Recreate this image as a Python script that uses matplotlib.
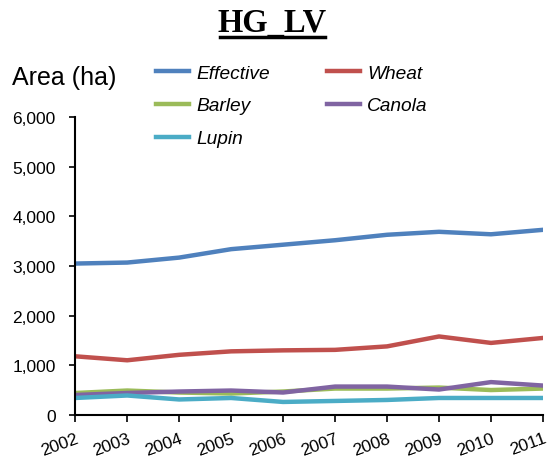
import matplotlib.pyplot as plt
from matplotlib.lines import Line2D
from matplotlib.ticker import FuncFormatter

years = [2002, 2003, 2004, 2005, 2006, 2007, 2008, 2009, 2010, 2011]
effective = [3050, 3070, 3170, 3340, 3430, 3520, 3630, 3690, 3640, 3730]
wheat = [1180, 1100, 1210, 1280, 1300, 1310, 1380, 1580, 1450, 1550]
barley = [440, 490, 450, 430, 470, 530, 530, 550, 500, 530]
canola = [400, 440, 470, 490, 450, 570, 570, 510, 660, 590]
lupin = [340, 390, 310, 340, 260, 280, 300, 340, 340, 340]

plt.rcParams['font.family'] = ['Liberation Sans', 'DejaVu Sans']

fig = plt.figure(figsize=(5.49, 4.6), dpi=100)
ax = fig.add_axes([0.137, 0.096, 0.852, 0.647])

lw = 3.2
l_eff, = ax.plot(years, effective, color='#4F81BD', lw=lw, label='Effective')
l_wh, = ax.plot(years, wheat, color='#C0504D', lw=lw, label='Wheat')
l_ba, = ax.plot(years, barley, color='#9BBB59', lw=lw, label='Barley')
l_ca, = ax.plot(years, canola, color='#8064A2', lw=lw, label='Canola')
l_lu, = ax.plot(years, lupin, color='#4BACC6', lw=lw, label='Lupin')

ax.set_xlim(2002, 2011)
ax.set_ylim(0, 6000)
ax.set_yticks(range(0, 6001, 1000))
ax.yaxis.set_major_formatter(FuncFormatter(lambda v, p: f"{int(v):,}"))
ax.set_xticks(years)
ax.set_xticklabels([str(y) for y in years], rotation=20, ha='right',
                   rotation_mode='anchor', fontsize=12.5)
ax.tick_params(axis='y', labelsize=12.5, direction='out', length=4, width=1.2, pad=10)
ax.tick_params(axis='x', direction='out', length=5, width=1.2, pad=6)
ax.spines['top'].set_visible(False)
ax.spines['right'].set_visible(False)
ax.spines['left'].set_linewidth(1.5)
ax.spines['bottom'].set_linewidth(1.5)

fig.legend([l_eff, l_ba, l_lu, l_wh, l_ca],
           ['Effective', 'Barley', 'Lupin', 'Wheat', 'Canola'],
           ncol=2, loc='upper left', bbox_to_anchor=(0.284, 0.858),
           frameon=False, prop={'style': 'italic', 'size': 13.8},
           handlelength=1.75, handletextpad=0.36, columnspacing=2.95,
           labelspacing=0.8, borderpad=0, borderaxespad=0)

fig.text(0.022, 0.83, 'Area (ha)', fontsize=18, va='center', ha='left')

fig.text(0.496, 0.948, 'HG_LV', fontsize=23.5, fontweight='bold',
         family='Liberation Serif', ha='center', va='center')
fig.add_artist(Line2D([0.401, 0.592], [0.918, 0.918], color='black', lw=2.5,
                      transform=fig.transFigure))

plt.savefig('out.png', dpi=100)
